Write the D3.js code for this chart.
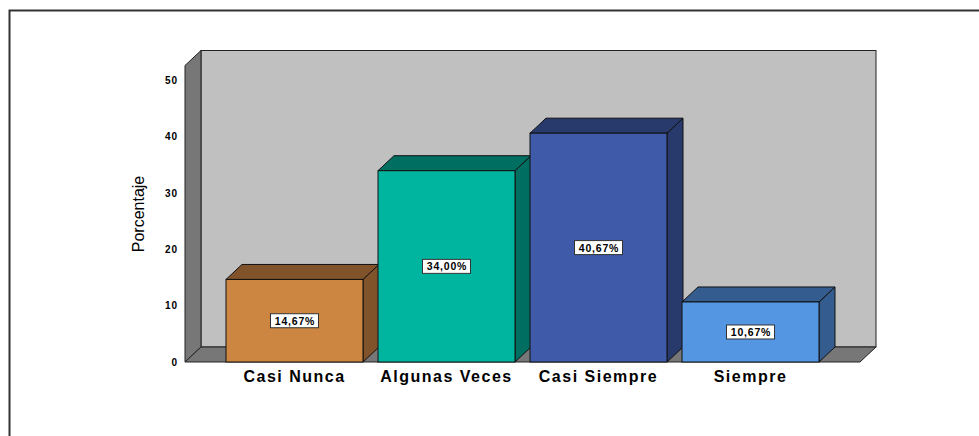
<!DOCTYPE html>
<html>
<head>
<meta charset="utf-8">
<script src="https://cdn.jsdelivr.net/npm/d3@7"></script>
<style>
  body { margin:0; background:#fff; }
  text { font-family: Arial, "Liberation Sans", sans-serif; }
</style>
</head>
<body>
<script>
var categories = ['Casi Nunca','Algunas Veces','Casi Siempre','Siempre'];
var values = [14.67, 34.00, 40.67, 10.67];
var labels = ['14,67%','34,00%','40,67%','10,67%'];
var yTicks = [0,10,20,30,40,50];
var frontColors = ['#cd8641','#00b5a0','#3f5aa8','#5596e3'];
var darkColors = ['#80532a','#006e61','#283a6b','#345c8e'];

var W = 979, H = 436;
var dx = 16, dy = -15;

var svg = d3.select('body').append('svg').attr('width',W).attr('height',H);

// outer frame
svg.append('path').attr('d','M9.5,440V10.5H985').style('fill','none').style('stroke','#333').style('stroke-width',2);

var x = d3.scaleBand().domain(categories).range([185,860]).paddingInner(0.0987).paddingOuter(0.2697);
var y = d3.scaleLinear().domain([0,52.7]).range([362,65.5]);

var x0 = 185, x1 = 860, y0 = y(0), yTop = y(52.7);

// back wall
svg.append('rect').attr('x',x0+dx).attr('y',yTop+dy).attr('width',x1-x0).attr('height',y0-yTop)
  .style('fill','#c0c0c0').style('stroke','#222').style('stroke-width',1);
// left wall
svg.append('path').attr('d','M'+x0+','+y0+'L'+x0+','+yTop+'L'+(x0+dx)+','+(yTop+dy)+'L'+(x0+dx)+','+(y0+dy)+'Z')
  .style('fill','#777').style('stroke','#222').style('stroke-width',1);
// floor
svg.append('path').attr('d','M'+x0+','+y0+'L'+(x0+dx)+','+(y0+dy)+'L'+(x1+dx)+','+(y0+dy)+'L'+x1+','+y0+'Z')
  .style('fill','#777').style('stroke','#222').style('stroke-width',1);

// y axis labels
svg.selectAll('.ytick').data(yTicks).enter().append('text').attr('class','ytick')
  .attr('x',178).attr('y',function(d){return y(d)+3.5;})
  .attr('text-anchor','end').style('font-size','10px').style('font-weight','bold').style('letter-spacing','1px')
  .text(function(d){return d;});

svg.append('text').attr('transform','translate(144,214) rotate(-90)')
  .attr('text-anchor','middle')
  .style('font-family','"Liberation Sans Narrow", "Arial Narrow", Arial, sans-serif')
  .style('font-size','16px').text('Porcentaje');

var bars = svg.selectAll('.bar').data(values).enter().append('g').attr('class','bar');

bars.append('path').attr('d',function(d,i){
    var l = x(categories[i]), r = l + x.bandwidth(), t = y(d);
    return 'M'+r+','+y0+'L'+(r+dx)+','+(y0+dy)+'L'+(r+dx)+','+(t+dy)+'L'+r+','+t+'Z';
  }).style('fill',function(d,i){return darkColors[i];}).style('stroke','#111').style('stroke-width',1);
bars.append('path').attr('d',function(d,i){
    var l = x(categories[i]), r = l + x.bandwidth(), t = y(d);
    return 'M'+l+','+t+'L'+(l+dx)+','+(t+dy)+'L'+(r+dx)+','+(t+dy)+'L'+r+','+t+'Z';
  }).style('fill',function(d,i){return darkColors[i];}).style('stroke','#111').style('stroke-width',1);
bars.append('rect')
  .attr('x',function(d,i){return x(categories[i]);})
  .attr('y',function(d){return y(d);})
  .attr('width',x.bandwidth())
  .attr('height',function(d){return y0-y(d);})
  .style('fill',function(d,i){return frontColors[i];}).style('stroke','#111').style('stroke-width',1);

// value labels
bars.append('rect')
  .attr('x',function(d,i){return x(categories[i])+x.bandwidth()/2-24;})
  .attr('y',function(d){return (y(d)+y0)/2-7;})
  .attr('width',48).attr('height',14)
  .style('fill','#fff').style('stroke','#333').style('stroke-width',1);
bars.append('text')
  .attr('x',function(d,i){return x(categories[i])+x.bandwidth()/2+0.5;})
  .attr('y',function(d){return (y(d)+y0)/2+4;})
  .attr('text-anchor','middle').style('font-size','10.5px').style('font-weight','bold').style('letter-spacing','0.8px')
  .text(function(d,i){return labels[i];});

// category labels
svg.selectAll('.cat').data(categories).enter().append('text').attr('class','cat')
  .attr('x',function(d){return x(d)+x.bandwidth()/2;})
  .attr('y',382).attr('text-anchor','middle')
  .style('font-size','16px').style('font-weight','bold').style('letter-spacing','1.5px')
  .text(function(d){return d;});
</script>
</body>
</html>
